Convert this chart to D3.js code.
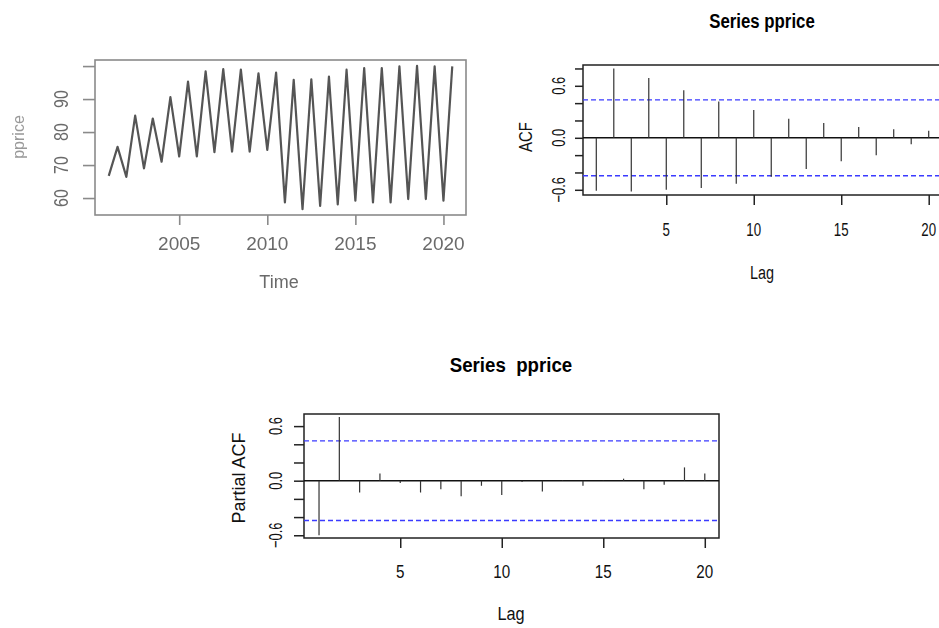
<!DOCTYPE html>
<html>
<head>
<meta charset="utf-8">
<script src="https://cdn.jsdelivr.net/npm/d3@7"></script>
<style>
  body { margin: 0; background: #fff; }
  text { font-family: "Liberation Sans", Arial, sans-serif; }
</style>
</head>
<body>
<script>
// series pprice, half-yearly from 2001
const tsStart = 2001
const tsFreq = 2
const pprice = [66.7, 75.5, 66.4, 85.0, 69.0, 84.1, 71.0, 90.6, 72.6, 95.3,
    72.6, 98.4, 73.9, 99.1, 74.1, 98.9, 74.1, 97.8, 74.6, 98.0,
    58.7, 95.8, 56.6, 96.0, 57.6, 96.8, 58.1, 98.9, 59.2, 99.4,
    58.7, 99.4, 58.7, 99.9, 59.7, 100.1, 59.7, 99.9, 59.2, 99.9]
const yearTicks = [2005, 2010, 2015, 2020]
const priceTicks = [60, 70, 80, 90, 100]
const priceLabels = [60, 70, 80, 90]

// acf / pacf
const lags = [1, 2, 3, 4, 5, 6, 7, 8, 9, 10, 11, 12, 13, 14, 15, 16, 17, 18, 19, 20]
const acfVals = [-0.61, 0.80, -0.62, 0.69, -0.60, 0.55, -0.58, 0.42, -0.53, 0.32,
    -0.45, 0.22, -0.36, 0.17, -0.27, 0.125, -0.20, 0.10, -0.075, 0.08]
const pacfVals = [-0.60, 0.70, -0.13, 0.08, -0.026, -0.13, -0.093, -0.17, -0.056, -0.157,
    -0.015, -0.12, 0.005, -0.056, -0.004, 0.022, -0.093, -0.045, 0.146, 0.078]
const ciBound = 0.438
const lagTicks = [5, 10, 15, 20]
const corrTicks = [-0.6, -0.4, -0.2, 0.0, 0.2, 0.4, 0.6, 0.8]
const corrLabels = [-0.6, 0.0, 0.6]

const W = 939, H = 628

const svg = d3.select('body').append('svg')
    .attr('width', W)
    .attr('height', H)

svg.append('rect').attr('width', W).attr('height', H).attr('fill', '#fff')

svg.append('defs').append('filter')
    .attr('id', 'soft')
    .append('feGaussianBlur').attr('stdDeviation', 0.6)

// text helper: centred, optional rotation and horizontal squeeze
function txt(g, x, y, s, o = {}) {
    return g.append('text')
        .attr('transform', `translate(${x},${y}) rotate(${o.rot || 0}) scale(${o.sx || 1},1)`)
        .attr('text-anchor', 'middle')
        .attr('font-size', o.size || 18)
        .attr('font-weight', o.bold ? 'bold' : 'normal')
        .attr('fill', o.fill || '#000')
        .style('white-space', 'pre')
        .text(s)
}

// ---------- time series plot ----------
{
    const g = svg.append('g').attr('filter', 'url(#soft)')
    const col = '#8a8a8a'
    const times = pprice.map((d, i) => tsStart + i / tsFreq)
    const tr = d3.extent(times), vr = d3.extent(pprice)
    const tpad = (tr[1] - tr[0]) * 0.04, vpad = (vr[1] - vr[0]) * 0.04
    const x = d3.scaleLinear().domain([tr[0] - tpad, tr[1] + tpad]).range([95, 466])
    const y = d3.scaleLinear().domain([vr[0] - vpad, vr[1] + vpad]).range([215, 60])

    g.append('path')
        .datum(pprice)
        .attr('fill', 'none')
        .attr('stroke', '#555')
        .attr('stroke-width', 2.2)
        .attr('stroke-linejoin', 'round')
        .attr('d', d3.line().x((d, i) => x(times[i])).y(d => y(d)))

    g.append('rect')
        .attr('x', 95).attr('y', 60).attr('width', 371).attr('height', 155)
        .attr('fill', 'none').attr('stroke', col).attr('stroke-width', 1.6)

    const yAxis = d3.axisLeft(y).tickValues(priceTicks).tickSize(12).tickFormat('')
    g.append('g').attr('transform', 'translate(95,0)').call(yAxis)
        .call(a => a.select('.domain').remove())
        .call(a => a.selectAll('line').attr('stroke', col).attr('stroke-width', 1.6))
    priceLabels.forEach(v => txt(g, 68, y(v), v, { rot: -90, size: 20, sx: 0.8, fill: '#6a6a6a' }))

    const xAxis = d3.axisBottom(x).tickValues(yearTicks).tickSize(10).tickFormat('')
    g.append('g').attr('transform', 'translate(0,215)').call(xAxis)
        .call(a => a.select('.domain').remove())
        .call(a => a.selectAll('line').attr('stroke', col).attr('stroke-width', 1.6))
    yearTicks.forEach(v => txt(g, x(v), 250, v, { size: 19, fill: '#6a6a6a' }))

    txt(g, 279, 288, 'Time', { size: 18, fill: '#6a6a6a' })
    txt(g, 24, 137, 'pprice', { rot: -90, size: 16, fill: '#999' })
}

// ---------- correlogram helper ----------
function correlogram(o) {
    const g = svg.append('g')
    const x = d3.scaleLinear().domain(o.xdom).range([o.left, o.right])
    const y = d3.scaleLinear().domain(o.ydom).range([o.bottom, o.top])

    g.append('rect')
        .attr('x', o.left).attr('y', o.top)
        .attr('width', o.right - o.left).attr('height', o.bottom - o.top)
        .attr('fill', 'none').attr('stroke', '#222').attr('stroke-width', 1.5)

    g.append('line')
        .attr('x1', o.left).attr('x2', o.right)
        .attr('y1', y(0)).attr('y2', y(0))
        .attr('stroke', '#111').attr('stroke-width', 1.5)

    ;[ciBound, -ciBound].forEach(c => {
        g.append('line')
            .attr('x1', o.left).attr('x2', o.right)
            .attr('y1', y(c)).attr('y2', y(c))
            .attr('stroke', '#3b3bff').attr('stroke-width', 1.4)
            .attr('stroke-dasharray', '5,3')
    })

    g.selectAll('line.spike')
        .data(o.vals)
        .join('line')
        .attr('class', 'spike')
        .attr('x1', (d, i) => x(lags[i])).attr('x2', (d, i) => x(lags[i]))
        .attr('y1', y(0)).attr('y2', d => y(d))
        .attr('stroke', '#333').attr('stroke-width', 1.2)

    const yAxis = d3.axisLeft(y).tickValues(o.yticks).tickSize(o.ytick).tickFormat('')
    g.append('g').attr('transform', `translate(${o.left},0)`).call(yAxis)
        .call(a => a.select('.domain').remove())
        .call(a => a.selectAll('line').attr('stroke', '#222').attr('stroke-width', 1.5))
    corrLabels.forEach(v => txt(g, o.ylabX, y(v), d3.format('.1f')(v),
        { rot: -90, size: 19, sx: 0.68, fill: '#111' }))

    const xAxis = d3.axisBottom(x).tickValues(lagTicks).tickSize(10).tickFormat('')
    g.append('g').attr('transform', `translate(0,${o.bottom})`).call(xAxis)
        .call(a => a.select('.domain').remove())
        .call(a => a.selectAll('line').attr('stroke', '#222').attr('stroke-width', 1.5))
    lagTicks.forEach(v => txt(g, x(v), o.xlabY, v, { size: 19, sx: o.sx, fill: '#111' }))

    const cx = o.titleX
    txt(g, cx, o.titleY, o.title, { size: 21, bold: true, sx: o.tsx })
    txt(g, cx, o.lagY, 'Lag', { size: 19, sx: o.sx + 0.06, fill: '#111' })
    txt(g, o.ynameX, o.ynameY, o.yname, { rot: -90, size: 18, sx: o.ynsx, fill: '#111' })
}

// ACF, right box edge runs off the picture
correlogram({
    vals: acfVals,
    xdom: [0.24, 20.76], ydom: [-0.66, 0.84],
    left: 583, right: 942, top: 65, bottom: 195,
    yticks: corrTicks, ytick: 8, ylabX: 565, xlabY: 236,
    sx: 0.7, tsx: 0.8,
    title: 'Series pprice', titleX: 762, titleY: 28,
    lagY: 279, yname: 'ACF', ynameX: 532, ynameY: 137, ynsx: 0.83
})

// PACF
correlogram({
    vals: pacfVals,
    xdom: [0.26, 20.7], ydom: [-0.63, 0.733],
    left: 304, right: 719, top: 414, bottom: 538,
    yticks: corrTicks.filter(v => v < 0.7), ytick: 10, ylabX: 282, xlabY: 578,
    sx: 0.8, tsx: 0.89,
    title: 'Series  pprice', titleX: 511, titleY: 372,
    lagY: 620, yname: 'Partial ACF', ynameX: 245, ynameY: 478, ynsx: 1.0
})
</script>
</body>
</html>
